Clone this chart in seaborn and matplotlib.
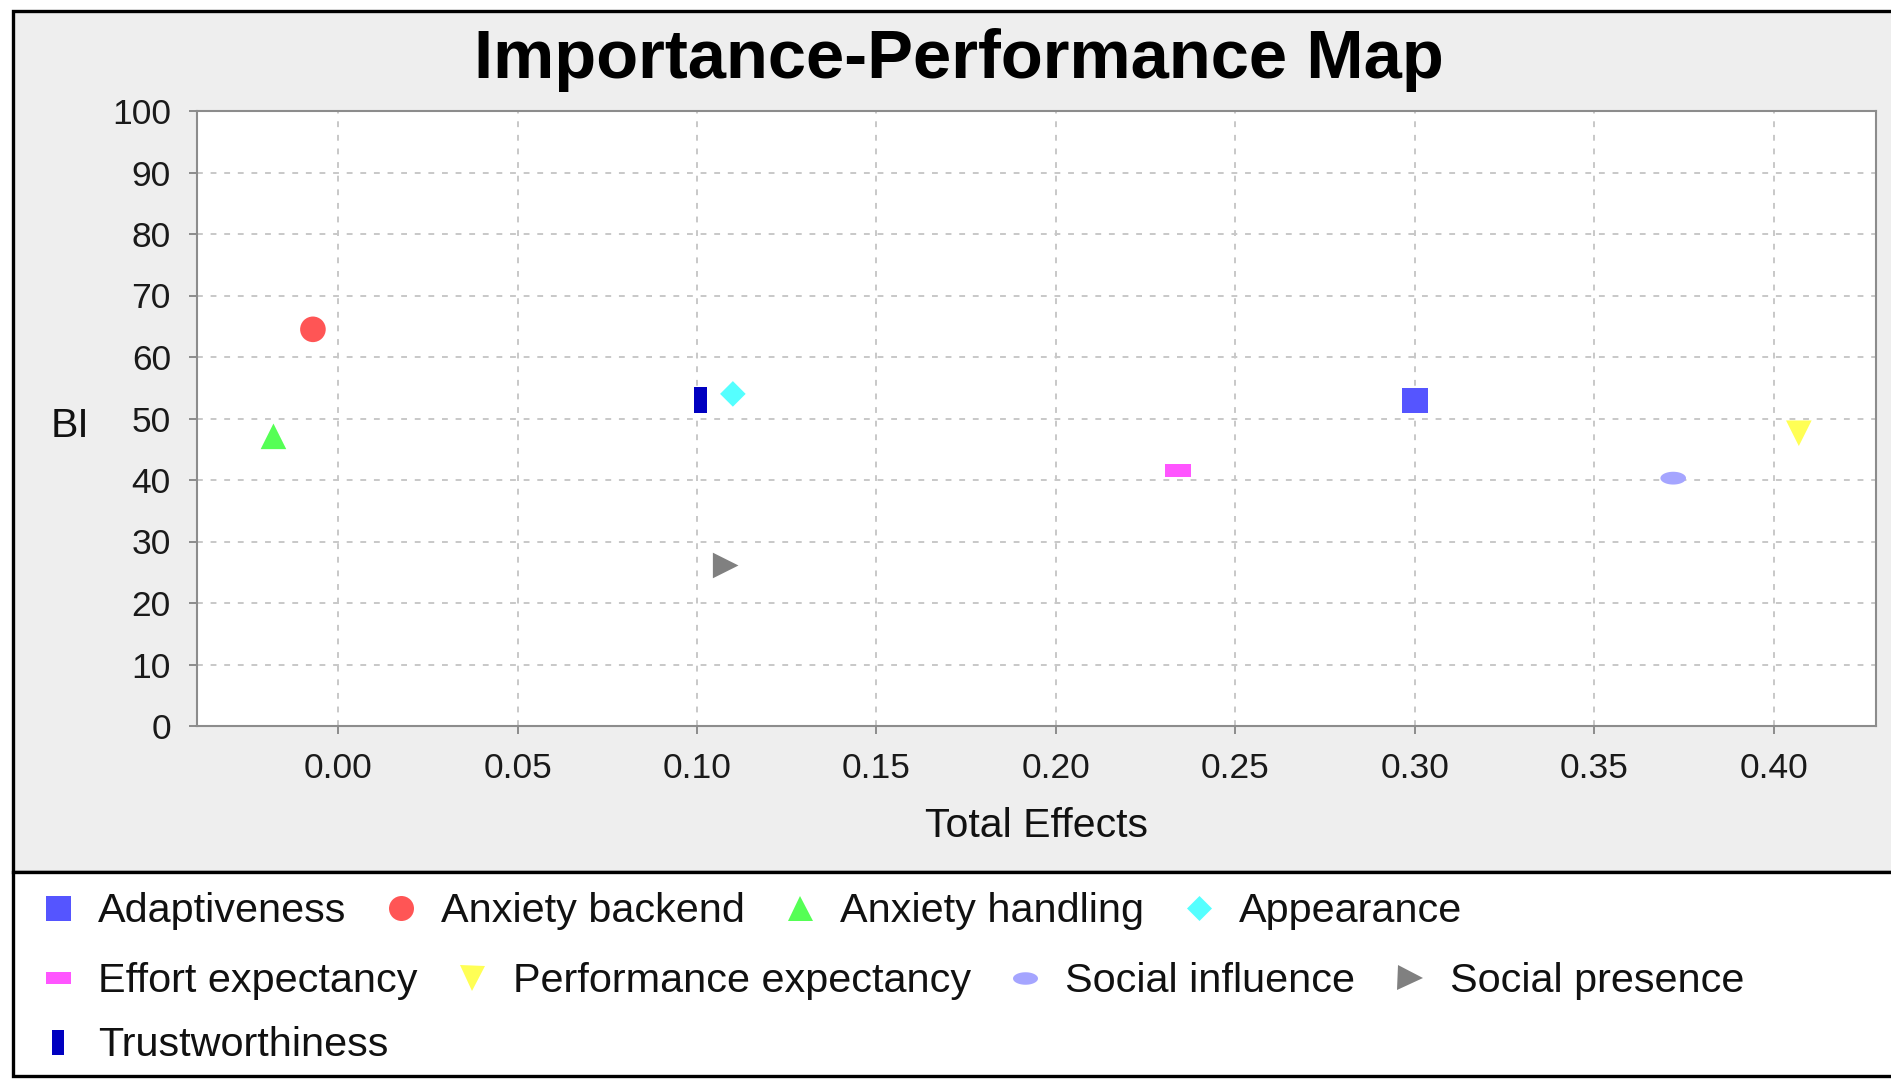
import numpy as np
import pandas as pd
import matplotlib
matplotlib.use("Agg")
import matplotlib.pyplot as plt
import matplotlib.lines as mlines
from matplotlib.markers import MarkerStyle
from matplotlib.patches import Rectangle
import seaborn as sns

# data
constructs = ['Adaptiveness', 'Anxiety backend', 'Anxiety handling', 'Appearance',
              'Effort expectancy', 'Performance expectancy', 'Social influence',
              'Social presence', 'Trustworthiness']
total_effects = [0.300, -0.007, -0.018, 0.110, 0.234, 0.407, 0.372, 0.108, 0.101]
performance = [52.9, 64.5, 47.1, 54.0, 41.5, 47.6, 40.3, 26.1, 53.0]
colors = ['#5555ff', '#ff5555', '#55ff55', '#55ffff', '#ff55ff',
          '#ffff55', '#a5a5ff', '#808080', '#0000c0']
x_ticks = [0.00, 0.05, 0.10, 0.15, 0.20, 0.25, 0.30, 0.35, 0.40]
y_ticks = [0, 10, 20, 30, 40, 50, 60, 70, 80, 90, 100]

df = pd.DataFrame({'Construct': constructs, 'Total Effects': total_effects, 'BI': performance})

# marker shapes (JFreeChart-like sequence)
diamond = [(0, 1), (1, 0), (0, -1), (-1, 0)]
hrect = [(-1, -0.5), (1, -0.5), (1, 0.5), (-1, 0.5)]
vrect = [(-0.5, -1), (0.5, -1), (0.5, 1), (-0.5, 1)]
tt = np.linspace(0, 2 * np.pi, 48)
ellipse = list(zip(np.cos(tt), 0.5 * np.sin(tt)))
shapes = ['s', 'o', '^', diamond, hrect, 'v', ellipse, '>', vrect]
markers = {c: MarkerStyle(m) for c, m in zip(constructs, shapes)}
palette = dict(zip(constructs, colors))

sns.set_theme(style='white')
plt.rcParams['font.family'] = ['Liberation Sans', 'DejaVu Sans']

W, H = 1891, 1080
fig = plt.figure(figsize=(W / 100, H / 100), dpi=100)
fig.patch.set_facecolor('white')

# chart panel and legend box
fig.patches.append(Rectangle((13 / W, 1 - 872 / H), 1.0, (872 - 11) / H,
                             transform=fig.transFigure, fc='#eeeeee', ec='black',
                             lw=2.4, zorder=-1))
fig.patches.append(Rectangle((13 / W, 1 - 1076 / H), 1.0, (1076 - 872) / H,
                             transform=fig.transFigure, fc='white', ec='black',
                             lw=2.4, zorder=-1))

ax = fig.add_axes([197 / W, 1 - 726 / H, (1876 - 197) / W, (726 - 111) / H])
ax.set_facecolor('white')

sns.scatterplot(data=df, x='Total Effects', y='BI', hue='Construct', style='Construct',
                palette=palette, markers=markers, s=340, linewidth=0,
                legend=False, ax=ax, zorder=3)

ax.set_xlim(-0.0393, 0.4285)
ax.set_ylim(0, 100)
ax.set_xticks(x_ticks)
ax.set_yticks(y_ticks)
ax.xaxis.set_major_formatter(matplotlib.ticker.StrMethodFormatter('{x:.2f}'))

ax.grid(True, color='#c8c8c8', linestyle=(0, (3, 4)), linewidth=1.4)
ax.set_axisbelow(True)
for sp in ax.spines.values():
    sp.set_visible(True)
    sp.set_color('#8c8c8c')
    sp.set_linewidth(1.5)

ax.tick_params(direction='out', length=5.8, width=1.4, color='#8c8c8c',
               labelsize=25.5, pad=13, labelcolor='#1a1a1a',
               bottom=True, left=True, top=False, right=False)

ax.set_xlabel('Total Effects', fontsize=29.5, color='#111111')
ax.xaxis.set_label_coords(0.5, -0.1805)
ax.xaxis.label.set_va('baseline')
ax.set_ylabel('BI', fontsize=29.5, color='#111111', rotation=0)
ax.yaxis.set_label_coords(-0.087, 0.4707)
ax.yaxis.label.set_va('baseline')
ax.yaxis.label.set_ha('left')

fig.text(958.5 / W, 1 - 78 / H, 'Importance-Performance Map', ha='center',
         va='baseline', fontsize=49.5, fontweight='bold', color='black')

# legend laid out in rows like the original flow layout
handles = [mlines.Line2D([], [], ls='none', marker=markers[c], ms=18,
                         markerfacecolor=palette[c], markeredgewidth=0)
           for c in constructs]
rows = [(0, 4, 911), (4, 8, 981), (8, 9, 1045)]
for a, b, yc in rows:
    fig.legend(handles[a:b], constructs[a:b], loc='center left',
               bbox_to_anchor=(41.6 / W, 1 - yc / H), bbox_transform=fig.transFigure,
               ncol=b - a, frameon=False, borderpad=0, borderaxespad=0,
               fontsize=29.8, handlelength=0.8, handletextpad=0.57,
               columnspacing=0.92, labelcolor='#111111')

fig.savefig('out.png', dpi=100)
